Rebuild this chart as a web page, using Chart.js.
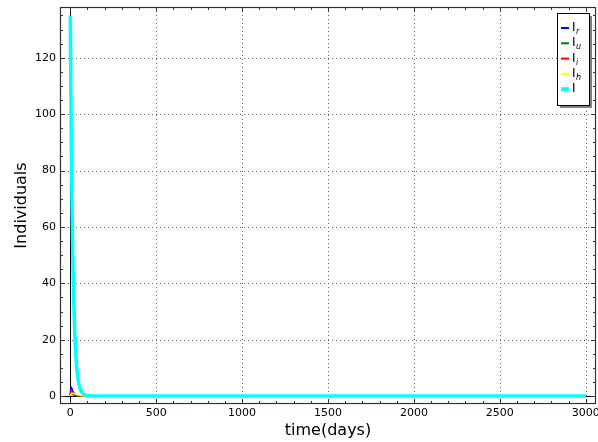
<!DOCTYPE html>
<html>
<head>
<meta charset="utf-8">
<script src="https://cdn.jsdelivr.net/npm/chart.js@4/dist/chart.umd.min.js"></script>
<style>
  html, body { margin: 0; padding: 0; background: #fff; }
  #wrap { width: 598px; height: 442px; }
</style>
</head>
<body>
<div id="wrap"><canvas id="chart" width="598" height="442"></canvas></div>
<script>
// time samples (days)
const days = [0, 2, 5, 10, 15, 20, 25, 30, 35, 40, 50, 60, 70, 80, 100, 150, 200, 500, 1000, 1500, 2000, 2500, 3000];

// compartments
const Ir = [0.5, 2.5, 3.2, 2.6, 1.8, 1.2, 0.8, 0.5, 0.35, 0.2, 0.1, 0.05, 0.02, 0, 0, 0, 0, 0, 0, 0, 0, 0, 0];
const Iu = [0.2, 0.8, 1.0, 0.8, 0.6, 0.4, 0.3, 0.2, 0.1, 0.08, 0.04, 0.02, 0, 0, 0, 0, 0, 0, 0, 0, 0, 0, 0];
const Ii = [0.3, 1.5, 1.9, 1.7, 1.3, 1.0, 0.8, 0.6, 0.45, 0.35, 0.2, 0.1, 0.05, 0.02, 0, 0, 0, 0, 0, 0, 0, 0, 0];
const Ih = [0, 0.4, 0.8, 1.0, 1.0, 0.9, 0.8, 0.7, 0.6, 0.5, 0.35, 0.25, 0.15, 0.1, 0.05, 0.01, 0, 0, 0, 0, 0, 0, 0];
const Itot = [135, 118, 96, 68, 48, 34, 24, 17, 12, 8.5, 4.3, 2.2, 1.1, 0.6, 0.2, 0.05, 0, 0, 0, 0, 0, 0, 0];

const xTicks = [0, 500, 1000, 1500, 2000, 2500, 3000];
const yTicks = [0, 20, 40, 60, 80, 100, 120];

// legend text: base letter + subscript
const seriesNames = [['I', 'r'], ['I', 'u'], ['I', 'i'], ['I', 'h'], ['I', '']];

const FONT = "'DejaVu Sans', sans-serif";

function pts(arr) {
    return days.map((d, i) => ({ x: d, y: arr[i] }));
}

function makeSet(arr, color, width, order) {
    return {
        data: pts(arr),
        borderColor: color,
        backgroundColor: color,
        borderWidth: width,
        pointRadius: 0,
        tension: 0.4,
        cubicInterpolationMode: 'monotone',
        fill: false,
        order: order
    };
}

// frame, dotted grid, zero lines and inward ticks, matplotlib classic look
const framePlugin = {
    id: 'frame',
    beforeDatasetsDraw(chart) {
        const { ctx, chartArea: a, scales: { x, y } } = chart;
        ctx.save();
        ctx.strokeStyle = '#666';
        ctx.lineWidth = 1;
        ctx.setLineDash([1, 3]);
        xTicks.forEach(v => {
            if (v === 0) return;
            const px = Math.round(x.getPixelForValue(v)) + 0.5;
            ctx.beginPath(); ctx.moveTo(px, a.top); ctx.lineTo(px, a.bottom); ctx.stroke();
        });
        yTicks.forEach(v => {
            if (v === 0) return;
            const py = Math.round(y.getPixelForValue(v)) + 0.5;
            ctx.beginPath(); ctx.moveTo(a.left, py); ctx.lineTo(a.right, py); ctx.stroke();
        });
        ctx.setLineDash([]);
        // zero lines
        ctx.strokeStyle = '#000';
        const x0 = Math.round(x.getPixelForValue(0)) + 0.5;
        const y0 = Math.round(y.getPixelForValue(0)) + 0.5;
        ctx.beginPath(); ctx.moveTo(x0, a.top); ctx.lineTo(x0, a.bottom); ctx.stroke();
        ctx.beginPath(); ctx.moveTo(a.left, y0); ctx.lineTo(a.right, y0); ctx.stroke();
        ctx.restore();
    },
    afterDatasetsDraw(chart) {
        const { ctx, chartArea: a, scales: { x, y } } = chart;
        ctx.save();
        ctx.strokeStyle = '#333';
        ctx.lineWidth = 1;
        const tick = (px, len, vertical) => {
            if (vertical) {
                ctx.beginPath(); ctx.moveTo(px, a.bottom); ctx.lineTo(px, a.bottom - len); ctx.stroke();
                ctx.beginPath(); ctx.moveTo(px, a.top); ctx.lineTo(px, a.top + len); ctx.stroke();
            } else {
                ctx.beginPath(); ctx.moveTo(a.left, px); ctx.lineTo(a.left + len, px); ctx.stroke();
                ctx.beginPath(); ctx.moveTo(a.right, px); ctx.lineTo(a.right - len, px); ctx.stroke();
            }
        };
        for (let v = 0; v <= 3000; v += 100) {
            const px = Math.round(x.getPixelForValue(v)) + 0.5;
            tick(px, v % 500 === 0 ? 5 : 3, true);
        }
        for (let v = 0; v <= 135; v += 5) {
            const py = Math.round(y.getPixelForValue(v)) + 0.5;
            tick(py, v % 20 === 0 ? 5 : 3, false);
        }
        ctx.strokeStyle = '#333';
        ctx.lineWidth = 1.2;
        ctx.strokeRect(a.left + 0.5, a.top + 0.5, a.right - a.left - 1, a.bottom - a.top - 1);
        ctx.restore();
    }
};

// boxed legend with drop shadow in the top right corner
const legendPlugin = {
    id: 'boxLegend',
    afterDraw(chart) {
        const { ctx, chartArea: a } = chart;
        const w = 32, h = 92;
        const bx = a.right - 39, by = a.top + 6;
        ctx.save();
        ctx.fillStyle = '#808080';
        ctx.fillRect(bx + 3, by + 3, w, h);
        ctx.fillStyle = '#fff';
        ctx.fillRect(bx, by, w, h);
        ctx.strokeStyle = '#000';
        ctx.lineWidth = 1;
        ctx.strokeRect(bx + 0.5, by + 0.5, w, h);
        chart.data.datasets.forEach((ds, i) => {
            const cy = by + 15 + i * 15.3;
            ctx.strokeStyle = ds.borderColor;
            ctx.lineWidth = i === 4 ? 4 : 2;
            ctx.beginPath(); ctx.moveTo(bx + 4, cy); ctx.lineTo(bx + 12, cy); ctx.stroke();
            ctx.fillStyle = '#000';
            ctx.textBaseline = 'middle';
            ctx.textAlign = 'left';
            ctx.font = '12px ' + FONT;
            ctx.fillText(seriesNames[i][0], bx + 15, cy);
            if (seriesNames[i][1]) {
                ctx.font = 'italic 8px ' + FONT;
                ctx.fillText(seriesNames[i][1], bx + 19, cy + 4);
            }
        });
        ctx.restore();
    }
};

new Chart(document.getElementById('chart').getContext('2d'), {
    type: 'line',
    data: {
        datasets: [
            makeSet(Ir, '#0000ff', 1.5, 4),
            makeSet(Iu, '#008000', 1.5, 3),
            makeSet(Ii, '#ff0000', 1.5, 2),
            makeSet(Ih, '#ffff00', 1.5, 1),
            makeSet(Itot, '#00ffff', 3.5, 0)
        ]
    },
    options: {
        responsive: false,
        animation: false,
        layout: { padding: { top: 7, right: 2, left: 0, bottom: 0 } },
        plugins: { legend: { display: false }, tooltip: { enabled: false } },
        scales: {
            x: {
                type: 'linear',
                min: -60,
                max: 3060,
                afterBuildTicks: s => { s.ticks = xTicks.map(v => ({ value: v })); },
                afterFit: s => { s.height = 38; s.paddingLeft = 0; s.paddingRight = 0; },
                grid: { display: false, drawTicks: false },
                border: { display: false },
                ticks: { color: '#000', font: { family: FONT, size: 11 }, padding: 3, maxRotation: 0, callback: v => String(v) },
                title: { display: true, text: 'time(days)', color: '#000', font: { family: FONT, size: 16 }, padding: { top: 0, bottom: 2 } }
            },
            y: {
                type: 'linear',
                min: -2.8,
                max: 138,
                afterBuildTicks: s => { s.ticks = yTicks.map(v => ({ value: v })); },
                afterFit: s => { s.width = 60; s.paddingTop = 0; s.paddingBottom = 0; },
                grid: { display: false, drawTicks: false },
                border: { display: false },
                ticks: { color: '#000', font: { family: FONT, size: 11 }, padding: 4, callback: v => String(v) },
                title: { display: true, text: 'Individuals', color: '#000', font: { family: FONT, size: 16 }, padding: { top: 12, bottom: 0 } }
            }
        }
    },
    plugins: [framePlugin, legendPlugin]
});
</script>
</body>
</html>
